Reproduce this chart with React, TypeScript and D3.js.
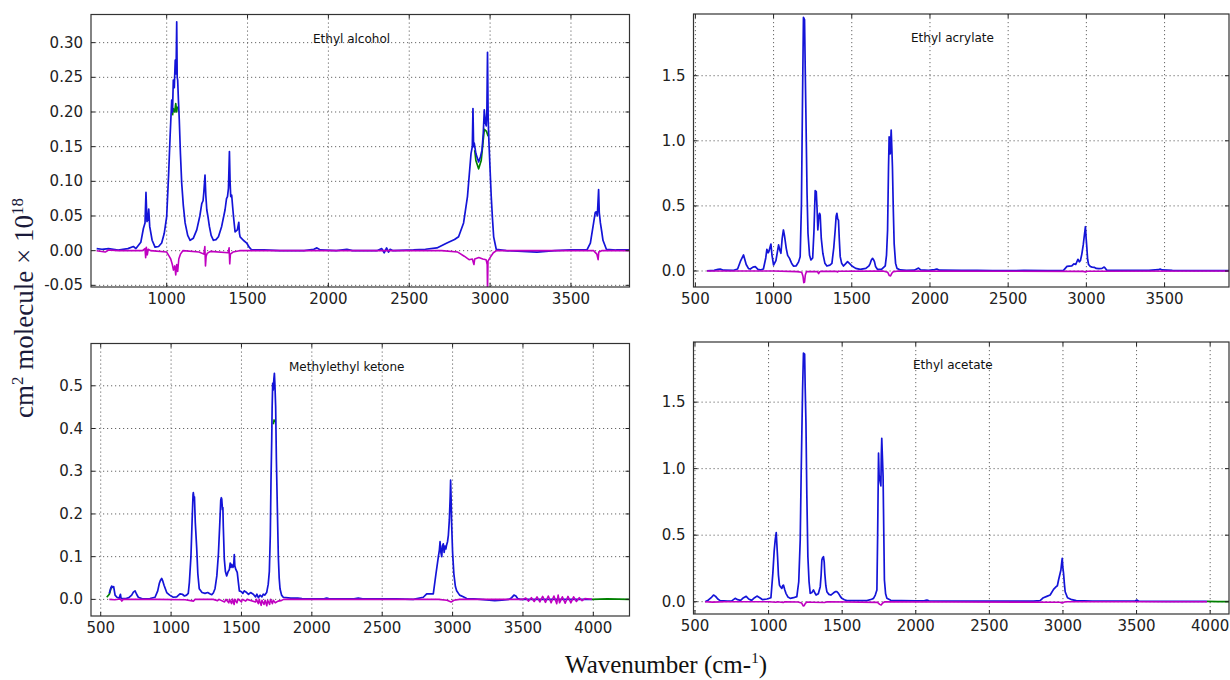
import React from "react";
import * as d3 from "d3";

type Pt = [number, number];
const GAP = NaN;

// ---------- Ethyl alcohol ----------
const ethylAlcoholBlue: Pt[] = [[567,0.003],[600,0.002],[640,0.003],[700,0.001],[760,0.003],[794,0.006],[810,0.003],[840,0.012],[856,0.032],[866,0.040],[872,0.084],[878,0.042],[884,0.045],[889,0.060],[895,0.035],[910,0.015],[928,0.005],[950,0.006],[969,0.011],[985,0.025],[1000,0.049],[1012,0.110],[1021,0.164],[1031,0.217],[1036,0.200],[1041,0.246],[1047,0.235],[1053,0.275],[1058,0.255],[1062,0.330],[1065,0.250],[1068,0.246],[1073,0.215],[1078,0.188],[1085,0.140],[1093,0.097],[1103,0.065],[1114,0.040],[1130,0.022],[1145,0.015],[1165,0.018],[1186,0.030],[1205,0.050],[1217,0.068],[1225,0.072],[1230,0.085],[1237,0.109],[1242,0.080],[1248,0.059],[1256,0.048],[1264,0.035],[1275,0.022],[1289,0.015],[1305,0.016],[1320,0.020],[1340,0.035],[1361,0.059],[1370,0.075],[1376,0.078],[1382,0.090],[1388,0.143],[1392,0.100],[1396,0.078],[1402,0.080],[1408,0.063],[1415,0.045],[1423,0.027],[1437,0.030],[1446,0.041],[1450,0.025],[1454,0.020],[1474,0.015],[1495,0.011],[1510,0.005],[1526,0.001],[1600,0.001],[1700,0.000],[1850,0.000],[1910,0.002],[1929,0.004],[1950,0.001],[2050,0.000],[2114,0.002],[2150,0.000],[2300,0.000],[2330,0.003],[2345,-0.003],[2360,0.004],[2372,-0.002],[2382,0.002],[2400,0.000],[2526,0.001],[2600,0.002],[2671,0.004],[2733,0.011],[2780,0.016],[2805,0.020],[2836,0.040],[2860,0.078],[2882,0.140],[2890,0.150],[2894,0.205],[2898,0.150],[2902,0.155],[2912,0.140],[2929,0.128],[2940,0.135],[2950,0.145],[2958,0.170],[2964,0.203],[2970,0.185],[2976,0.180],[2980,0.200],[2984,0.286],[2988,0.190],[2993,0.155],[3007,0.078],[3015,0.045],[3022,0.020],[3038,0.002],[3100,0.000],[3200,-0.001],[3290,-0.002],[3400,0.000],[3500,0.001],[3599,0.001],[3620,0.011],[3640,0.040],[3650,0.055],[3657,0.056],[3663,0.050],[3671,0.088],[3675,0.055],[3682,0.040],[3690,0.028],[3698,0.015],[3719,0.002],[3780,0.001],[3862,0.001]];
const ethylAlcoholGreen: Pt[] = [[1036,0.195],[1041,0.205],[1050,0.200],[1056,0.212],[1062,0.200],[1066,0.208],[GAP,GAP],[2905,0.145],[2912,0.130],[2929,0.118],[2945,0.130],[2964,0.175],[2978,0.172],[2988,0.165]];
const ethylAlcoholMagenta: Pt[] = [[567,0.0],[620,-0.002],[640,0.001],[700,0.0],[850,0.0],[866,0.003],[870,-0.010],[874,0.005],[880,-0.006],[886,0.002],[900,0.0],[1000,-0.002],[1015,-0.008],[1025,-0.012],[1035,-0.020],[1042,-0.028],[1050,-0.022],[1056,-0.035],[1062,-0.020],[1068,-0.030],[1075,-0.012],[1085,-0.005],[1100,0.000],[1200,-0.002],[1230,-0.005],[1236,0.006],[1240,-0.022],[1244,-0.008],[1250,-0.004],[1270,-0.001],[1380,-0.003],[1386,0.004],[1390,-0.019],[1394,-0.005],[1410,-0.002],[1450,0.0],[2700,0.0],[2800,-0.002],[2840,-0.008],[2870,-0.013],[2890,-0.012],[2900,-0.020],[2905,-0.012],[2930,-0.010],[2955,-0.012],[2975,-0.013],[2982,-0.020],[2984,-0.058],[2987,-0.015],[3000,-0.010],[3020,-0.003],[3040,0.0],[3640,0.0],[3660,-0.005],[3668,-0.013],[3672,-0.002],[3690,0.0],[3862,0.0]];

// ---------- Ethyl acrylate ----------
const ethylAcrylateBlue: Pt[] = [[574,0.002],[620,0.005],[645,0.012],[659,0.015],[680,0.006],[740,0.004],[770,0.015],[790,0.080],[808,0.123],[825,0.050],[840,0.018],[851,0.015],[868,0.030],[883,0.033],[900,0.012],[915,0.008],[935,0.015],[950,0.100],[957,0.166],[965,0.140],[970,0.150],[983,0.207],[990,0.120],[1000,0.046],[1015,0.080],[1032,0.200],[1040,0.160],[1047,0.136],[1055,0.250],[1063,0.315],[1070,0.270],[1081,0.174],[1090,0.120],[1102,0.097],[1115,0.060],[1127,0.038],[1145,0.040],[1160,0.070],[1170,0.110],[1178,0.500],[1185,1.313],[1191,1.948],[1198,1.930],[1203,1.500],[1207,1.185],[1214,0.600],[1220,0.290],[1230,0.120],[1239,0.085],[1250,0.100],[1258,0.300],[1266,0.617],[1273,0.610],[1278,0.480],[1283,0.315],[1289,0.420],[1294,0.443],[1298,0.430],[1305,0.250],[1315,0.136],[1328,0.060],[1341,0.038],[1360,0.045],[1373,0.059],[1385,0.180],[1394,0.315],[1400,0.420],[1405,0.443],[1410,0.400],[1415,0.390],[1420,0.250],[1426,0.110],[1435,0.060],[1447,0.038],[1460,0.055],[1473,0.072],[1488,0.055],[1501,0.038],[1525,0.020],[1554,0.013],[1590,0.020],[1610,0.040],[1618,0.059],[1625,0.085],[1633,0.097],[1640,0.085],[1645,0.072],[1652,0.035],[1664,0.013],[1690,0.012],[1714,0.040],[1722,0.120],[1729,0.315],[1735,0.800],[1739,1.031],[1743,0.950],[1746,0.900],[1749,1.000],[1752,1.083],[1756,0.950],[1760,0.800],[1765,0.500],[1771,0.210],[1780,0.060],[1789,0.020],[1810,0.008],[1850,0.005],[1900,0.006],[1915,0.015],[1927,0.022],[1940,0.008],[1990,0.005],[2030,0.010],[2044,0.015],[2060,0.006],[2200,0.004],[2300,0.005],[2400,0.003],[2600,0.004],[2750,0.003],[2854,0.005],[2876,0.035],[2890,0.038],[2907,0.040],[2920,0.055],[2932,0.050],[2946,0.090],[2955,0.070],[2962,0.080],[2971,0.130],[2980,0.200],[2986,0.263],[2994,0.340],[2998,0.260],[3003,0.180],[3008,0.090],[3014,0.050],[3025,0.035],[3037,0.030],[3050,0.028],[3063,0.020],[3080,0.018],[3100,0.020],[3114,0.030],[3122,0.020],[3131,0.005],[3200,0.004],[3300,0.004],[3400,0.005],[3460,0.010],[3472,0.015],[3484,0.008],[3550,0.004],[3700,0.003],[3914,0.003]];
const ethylAcrylateGreen: Pt[] = [];
const ethylAcrylateMagenta: Pt[] = [[574,0.0],[1000,0.0],[1150,-0.005],[1180,-0.010],[1188,-0.040],[1193,-0.090],[1198,-0.085],[1203,-0.030],[1210,-0.005],[1280,-0.005],[1288,-0.020],[1293,-0.008],[1300,-0.003],[1400,-0.002],[1410,-0.008],[1415,-0.002],[1700,0.0],[1730,-0.010],[1740,-0.035],[1748,-0.038],[1755,-0.020],[1765,-0.005],[1800,0.0],[2980,-0.003],[2995,-0.008],[3005,-0.002],[3914,0.0]];

// ---------- Methylethyl ketone ----------
const mekBlue: Pt[] = [[561,0.014],[570,0.025],[578,0.031],[585,0.028],[592,0.030],[602,0.010],[615,0.005],[632,0.003],[640,0.012],[645,0.002],[680,0.002],[700,0.004],[720,0.010],[732,0.017],[744,0.020],[755,0.012],[767,0.005],[800,0.001],[850,0.002],[886,0.005],[905,0.020],[916,0.037],[925,0.045],[933,0.049],[942,0.042],[950,0.033],[969,0.016],[990,0.010],[1016,0.005],[1040,0.006],[1063,0.013],[1080,0.012],[1095,0.008],[1110,0.010],[1122,0.014],[1130,0.040],[1141,0.100],[1150,0.190],[1156,0.245],[1158,0.250],[1162,0.238],[1166,0.240],[1172,0.180],[1182,0.120],[1190,0.060],[1200,0.025],[1220,0.016],[1241,0.014],[1260,0.016],[1275,0.013],[1289,0.011],[1300,0.015],[1312,0.025],[1325,0.055],[1336,0.105],[1345,0.170],[1353,0.233],[1357,0.238],[1360,0.235],[1365,0.210],[1368,0.215],[1371,0.170],[1378,0.095],[1386,0.065],[1395,0.055],[1405,0.065],[1414,0.070],[1420,0.085],[1426,0.075],[1431,0.082],[1440,0.075],[1445,0.080],[1449,0.105],[1453,0.078],[1460,0.070],[1470,0.063],[1478,0.040],[1485,0.020],[1500,0.018],[1510,0.014],[1520,0.020],[1537,0.016],[1550,0.012],[1565,0.016],[1584,0.012],[1600,0.006],[1610,0.012],[1620,0.004],[1632,0.010],[1645,0.006],[1655,0.012],[1665,0.010],[1679,0.016],[1690,0.035],[1698,0.065],[1705,0.150],[1710,0.280],[1715,0.373],[1718,0.450],[1722,0.506],[1726,0.490],[1730,0.515],[1734,0.529],[1738,0.500],[1743,0.450],[1748,0.330],[1755,0.213],[1762,0.100],[1768,0.050],[1774,0.025],[1785,0.010],[1797,0.005],[1850,0.003],[1900,0.003],[1930,0.002],[2000,0.001],[2090,0.002],[2106,0.003],[2120,0.002],[2200,0.001],[2300,0.001],[2330,0.003],[2360,0.001],[2500,0.001],[2600,0.001],[2721,0.000],[2792,0.005],[2816,0.013],[2863,0.013],[2882,0.060],[2899,0.100],[2906,0.115],[2911,0.135],[2917,0.110],[2923,0.100],[2928,0.125],[2934,0.130],[2940,0.110],[2946,0.125],[2952,0.118],[2958,0.128],[2964,0.135],[2970,0.150],[2977,0.186],[2983,0.240],[2986,0.279],[2990,0.230],[2993,0.180],[3000,0.110],[3009,0.060],[3020,0.030],[3029,0.020],[3050,0.010],[3076,0.006],[3100,0.002],[3150,0.001],[3200,0.000],[3300,-0.003],[3350,-0.002],[3400,0.000],[3420,0.004],[3436,0.010],[3450,0.008],[3462,0.002],[3480,0.000],[3600,0.000],[3800,0.000],[3990,0.000]];
const mekGreen: Pt[] = [[543,0.005],[561,0.012],[575,0.028],[GAP,GAP],[1726,0.410],[1732,0.420],[1738,0.415],[GAP,GAP],[3990,0.000],[4100,0.001],[4256,0.000]];
const mekMagenta: Pt[] = [[561,0.0],[600,-0.001],[640,0.001],[650,-0.004],[660,0.0],[900,0.0],[1100,-0.001],[1160,-0.004],[1170,0.0],[1300,0.0],[1330,-0.003],[1340,0.0],[1380,-0.006],[1390,0.0],[1410,-0.008],[1415,0.0],[1430,-0.010],[1436,0.001],[1448,-0.012],[1452,0.0],[1468,-0.008],[1475,0.001],[1500,-0.006],[1505,0.0],[1530,-0.004],[1540,0.0],[1600,-0.006],[1606,0.0],[1620,-0.010],[1626,0.0],[1640,-0.014],[1646,-0.002],[1660,-0.012],[1668,-0.002],[1680,-0.015],[1686,-0.002],[1700,-0.012],[1706,0.0],[1720,-0.010],[1726,-0.002],[1740,-0.008],[1760,-0.004],[1780,-0.003],[1800,0.0],[2900,0.0],[2960,-0.002],[2990,-0.006],[3010,-0.002],[3050,0.0],[3500,0.0],[3520,0.003],[3540,-0.004],[3560,0.004],[3580,-0.005],[3600,0.006],[3620,-0.006],[3640,0.007],[3660,-0.007],[3680,0.008],[3700,-0.008],[3720,0.008],[3740,-0.010],[3750,0.010],[3760,-0.008],[3780,0.006],[3800,-0.009],[3820,0.007],[3840,-0.008],[3860,0.006],[3880,-0.005],[3900,0.004],[3920,-0.003],[3940,0.002],[3990,0.0]];

// ---------- Ethyl acetate ----------
const ethylAcetateBlue: Pt[] = [[569,0.000],[592,0.013],[610,0.030],[626,0.050],[640,0.040],[655,0.020],[671,0.008],[720,0.004],[750,0.006],[773,0.025],[790,0.015],[810,0.010],[830,0.030],[848,0.040],[865,0.020],[885,0.010],[905,0.030],[921,0.042],[940,0.030],[960,0.015],[989,0.020],[1016,0.030],[1029,0.213],[1038,0.380],[1045,0.464],[1052,0.519],[1061,0.340],[1067,0.200],[1074,0.125],[1082,0.110],[1090,0.100],[1096,0.120],[1101,0.125],[1110,0.090],[1118,0.063],[1132,0.035],[1147,0.025],[1170,0.030],[1192,0.038],[1205,0.150],[1215,0.464],[1222,1.000],[1231,1.592],[1237,1.868],[1245,1.860],[1249,1.600],[1254,1.340],[1260,0.800],[1267,0.340],[1275,0.150],[1283,0.063],[1295,0.070],[1305,0.088],[1315,0.065],[1323,0.050],[1338,0.060],[1351,0.113],[1357,0.200],[1362,0.314],[1367,0.330],[1373,0.338],[1378,0.300],[1382,0.213],[1389,0.120],[1396,0.075],[1410,0.055],[1423,0.050],[1440,0.065],[1453,0.075],[1465,0.075],[1475,0.063],[1487,0.040],[1498,0.025],[1515,0.015],[1532,0.008],[1600,0.008],[1668,0.008],[1700,0.018],[1713,0.025],[1725,0.050],[1736,0.088],[1741,0.500],[1747,1.116],[1751,0.950],[1753,0.940],[1758,0.900],[1763,0.870],[1766,1.100],[1769,1.228],[1773,1.100],[1778,0.940],[1783,0.500],[1787,0.163],[1795,0.060],[1804,0.025],[1830,0.010],[1900,0.008],[2000,0.007],[2060,0.008],[2076,0.012],[2090,0.007],[2200,0.005],[2400,0.004],[2600,0.004],[2800,0.004],[2845,0.008],[2867,0.030],[2890,0.040],[2913,0.050],[2936,0.093],[2954,0.113],[2962,0.120],[2970,0.163],[2986,0.238],[2992,0.300],[2995,0.326],[2999,0.260],[3004,0.213],[3010,0.130],[3015,0.075],[3031,0.030],[3060,0.015],[3090,0.008],[3200,0.005],[3400,0.004],[3490,0.005],[3502,0.012],[3515,0.004],[3700,0.002],[3978,0.002]];
const ethylAcetateGreen: Pt[] = [[3978,0.002],[4050,0.000],[4128,0.000]];
const ethylAcetateMagenta: Pt[] = [[569,0.0],[620,-0.003],[700,0.0],[1000,0.0],[1050,-0.004],[1060,0.0],[1100,-0.006],[1110,0.0],[1200,-0.002],[1225,-0.010],[1235,-0.032],[1242,-0.030],[1250,-0.012],[1260,-0.003],[1300,-0.004],[1380,-0.006],[1400,0.0],[1740,-0.005],[1755,-0.020],[1765,-0.025],[1775,-0.010],[1790,0.0],[2980,-0.004],[2995,-0.010],[3010,-0.002],[3030,0.0],[3978,0.0]];

// ---------- tick labels ----------
const ticksYAlcohol = [-0.05, 0.0, 0.05, 0.1, 0.15, 0.2, 0.25, 0.3];
const ticksXAlcohol = [1000, 1500, 2000, 2500, 3000, 3500];
const ticksYAcrylate = [0.0, 0.5, 1.0, 1.5];
const ticksXAcrylate = [500, 1000, 1500, 2000, 2500, 3000, 3500];
const ticksYMek = [0.0, 0.1, 0.2, 0.3, 0.4, 0.5];
const ticksXMek = [500, 1000, 1500, 2000, 2500, 3000, 3500, 4000];
const ticksYAcetate = [0.0, 0.5, 1.0, 1.5];
const ticksXAcetate = [500, 1000, 1500, 2000, 2500, 3000, 3500, 4000];

const titles = ["Ethyl alcohol", "Ethyl acrylate", "Methylethyl ketone", "Ethyl acetate"];

const BLUE = "#1414d8";
const GREEN = "#008000";
const MAGENTA = "#c000c0";

interface PanelCfg {
  id: string;
  title: string;
  titleX: number;
  titleY: number;
  left: number; right: number; top: number; bottom: number;
  xDomain: [number, number];
  yDomain: [number, number];
  xTicks: number[];
  yTicks: number[];
  yFmt: (v: number) => string;
  blue: Pt[]; green: Pt[]; magenta: Pt[];
}

const fmt2 = (v: number) => (Math.abs(v) < 1e-9 ? "0.00" : d3.format(".2f")(v).replace("−", "-"));
const fmt1 = (v: number) => d3.format(".1f")(v);

const panels: PanelCfg[] = [
  { id: "p1", title: titles[0], titleX: 313, titleY: 43, left: 91, right: 629.5, top: 14.5, bottom: 287,
    xDomain: [532, 3862], yDomain: [-0.0524, 0.3406], xTicks: ticksXAlcohol, yTicks: ticksYAlcohol, yFmt: fmt2,
    blue: ethylAlcoholBlue, green: ethylAlcoholGreen, magenta: ethylAlcoholMagenta },
  { id: "p2", title: titles[1], titleX: 911, titleY: 42, left: 693.5, right: 1229, top: 14, bottom: 287,
    xDomain: [488, 3912], yDomain: [-0.123, 1.974], xTicks: ticksXAcrylate, yTicks: ticksYAcrylate, yFmt: fmt1,
    blue: ethylAcrylateBlue, green: ethylAcrylateGreen, magenta: ethylAcrylateMagenta },
  { id: "p3", title: titles[2], titleX: 289, titleY: 371, left: 91, right: 629.5, top: 343.5, bottom: 616,
    xDomain: [431, 4257], yDomain: [-0.0389, 0.599], xTicks: ticksXMek, yTicks: ticksYMek, yFmt: fmt1,
    blue: mekBlue, green: mekGreen, magenta: mekMagenta },
  { id: "p4", title: titles[3], titleX: 913, titleY: 369, left: 693.5, right: 1229, top: 342, bottom: 614,
    xDomain: [490, 4128], yDomain: [-0.0925, 1.952], xTicks: ticksXAcetate, yTicks: ticksYAcetate, yFmt: fmt1,
    blue: ethylAcetateBlue, green: ethylAcetateGreen, magenta: ethylAcetateMagenta },
];

function Panel({ cfg }: { cfg: PanelCfg }) {
  const x = d3.scaleLinear().domain(cfg.xDomain).range([cfg.left, cfg.right]);
  const y = d3.scaleLinear().domain(cfg.yDomain).range([cfg.bottom, cfg.top]);
  const line = d3.line<Pt>()
    .defined((d) => !Number.isNaN(d[0]) && !Number.isNaN(d[1]))
    .x((d) => x(d[0]))
    .y((d) => y(d[1]));
  const tickLen = 4;
  const font = "'DejaVu Sans', sans-serif";
  return (
    <g>
      <defs>
        <clipPath id={`clip-${cfg.id}`}>
          <rect x={cfg.left} y={cfg.top} width={cfg.right - cfg.left} height={cfg.bottom - cfg.top} />
        </clipPath>
      </defs>
      <rect x={cfg.left} y={cfg.top} width={cfg.right - cfg.left} height={cfg.bottom - cfg.top} fill="#fff" />
      {cfg.xTicks.map((t) => (
        <line key={`gx${t}`} x1={x(t)} x2={x(t)} y1={cfg.top} y2={cfg.bottom}
          stroke="#666" strokeWidth={1} strokeDasharray="1.2,2.8" />
      ))}
      {cfg.yTicks.map((t) => (
        <line key={`gy${t}`} x1={cfg.left} x2={cfg.right} y1={y(t)} y2={y(t)}
          stroke="#666" strokeWidth={1} strokeDasharray="1.2,2.8" />
      ))}
      <g clipPath={`url(#clip-${cfg.id})`}>
        {cfg.green.length > 0 && (
          <path d={line(cfg.green) || ""} fill="none" stroke={GREEN} strokeWidth={1.7} strokeLinejoin="round" />
        )}
        <path d={line(cfg.blue) || ""} fill="none" stroke={BLUE} strokeWidth={1.7} strokeLinejoin="round" />
        <path d={line(cfg.magenta) || ""} fill="none" stroke={MAGENTA} strokeWidth={1.6} strokeLinejoin="round" />
      </g>
      {cfg.xTicks.map((t) => (
        <g key={`tx${t}`}>
          <line x1={x(t)} x2={x(t)} y1={cfg.bottom} y2={cfg.bottom - tickLen} stroke="#222" />
          <line x1={x(t)} x2={x(t)} y1={cfg.top} y2={cfg.top + tickLen} stroke="#222" />
          <text x={x(t)} y={cfg.bottom + 17} textAnchor="middle" fontFamily={font} fontSize={15} fill="#222">
            {t}
          </text>
        </g>
      ))}
      {cfg.yTicks.map((t) => (
        <g key={`ty${t}`}>
          <line x1={cfg.left} x2={cfg.left + tickLen} y1={y(t)} y2={y(t)} stroke="#222" />
          <line x1={cfg.right} x2={cfg.right - tickLen} y1={y(t)} y2={y(t)} stroke="#222" />
          <text x={cfg.left - 8} y={y(t) + 5} textAnchor="end" fontFamily={font} fontSize={15} fill="#222">
            {cfg.yFmt(t)}
          </text>
        </g>
      ))}
      <rect x={cfg.left} y={cfg.top} width={cfg.right - cfg.left} height={cfg.bottom - cfg.top}
        fill="none" stroke="#333" strokeWidth={1.2} />
      <text x={cfg.titleX} y={cfg.titleY} fontFamily={font} fontSize={12} fill="#111">{cfg.title}</text>
    </g>
  );
}

export default function App() {
  const serif = "'Liberation Serif', 'Times New Roman', serif";
  return (
    <svg width={1230} height={680} style={{ position: "absolute", left: 0, top: 0, background: "#fff" }}>
      <rect x={0} y={0} width={1230} height={680} fill="#fff" />
      {panels.map((p) => (
        <Panel key={p.id} cfg={p} />
      ))}
      <text transform="translate(33,308) rotate(-90)" textAnchor="middle" fontFamily={serif} fontSize={27} fill="#1a1a3a">
        cm<tspan dy={-10} fontSize={17}>2</tspan><tspan dy={10}> molecule × 10</tspan><tspan dy={-10} fontSize={17}>18</tspan>
      </text>
      <text x={666} y={673} textAnchor="middle" fontFamily={serif} fontSize={25} fill="#111">
        Wavenumber (cm-<tspan dy={-10} fontSize={15}>1</tspan><tspan dy={10}>)</tspan>
      </text>
    </svg>
  );
}
